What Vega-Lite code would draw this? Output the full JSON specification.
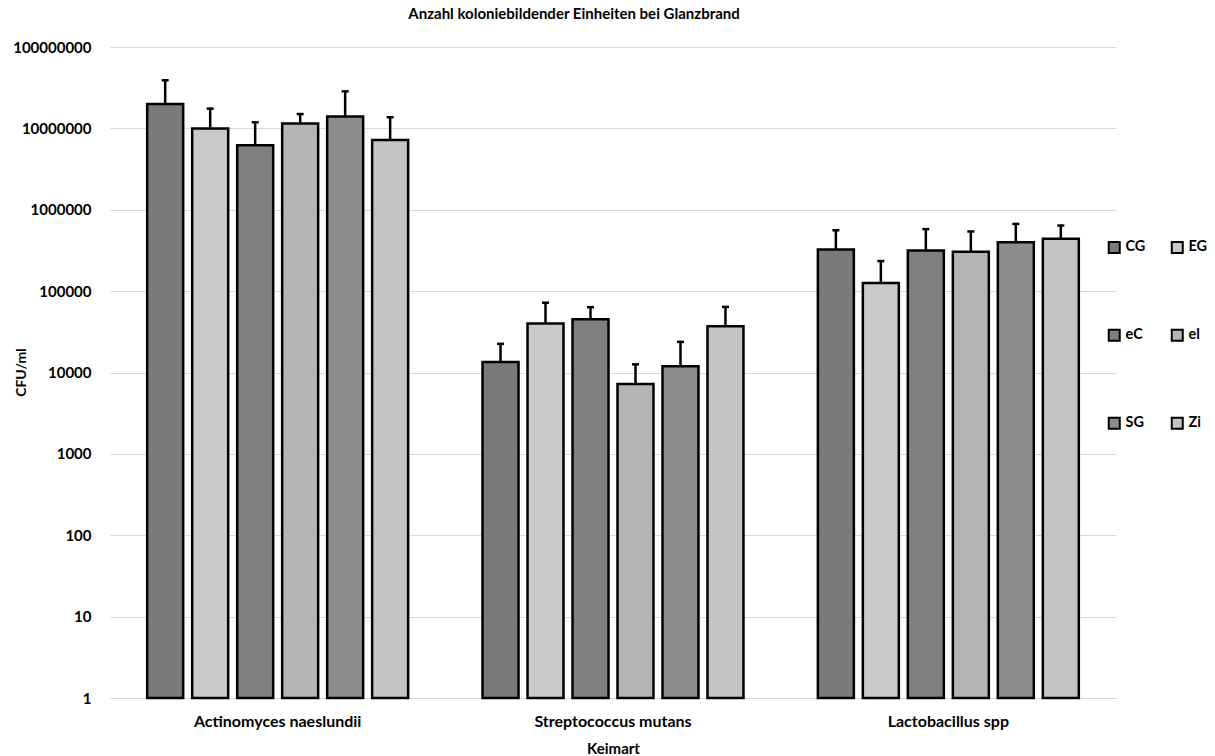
{
  "$schema": "https://vega.github.io/schema/vega-lite/v6.json",
  "autosize": {"type": "none"},
  "width": 1006,
  "height": 651,
  "padding": {"left": 110, "top": 47, "right": 99, "bottom": 58},
  "background": "white",
  "title": {
    "text": "Anzahl koloniebildender Einheiten bei Glanzbrand",
    "font": "Lato",
    "fontSize": 15,
    "fontWeight": "bold",
    "color": "#000000",
    "anchor": "middle",
    "dx": -39,
    "offset": 18
  },
  "data": {
    "values": [
      {"keimart": "Actinomyces naeslundii", "gruppe": "CG", "cfu": 20000000, "upper": 39000000},
      {"keimart": "Actinomyces naeslundii", "gruppe": "EG", "cfu": 10000000, "upper": 17500000},
      {"keimart": "Actinomyces naeslundii", "gruppe": "eC", "cfu": 6200000, "upper": 11900000},
      {"keimart": "Actinomyces naeslundii", "gruppe": "el", "cfu": 11500000, "upper": 15000000},
      {"keimart": "Actinomyces naeslundii", "gruppe": "SG", "cfu": 14000000, "upper": 28500000},
      {"keimart": "Actinomyces naeslundii", "gruppe": "Zi", "cfu": 7200000, "upper": 13700000},
      {"keimart": "Streptococcus mutans", "gruppe": "CG", "cfu": 13500, "upper": 22500},
      {"keimart": "Streptococcus mutans", "gruppe": "EG", "cfu": 40000, "upper": 72000},
      {"keimart": "Streptococcus mutans", "gruppe": "eC", "cfu": 45000, "upper": 63500},
      {"keimart": "Streptococcus mutans", "gruppe": "el", "cfu": 7200, "upper": 12600},
      {"keimart": "Streptococcus mutans", "gruppe": "SG", "cfu": 11900, "upper": 23800},
      {"keimart": "Streptococcus mutans", "gruppe": "Zi", "cfu": 37000, "upper": 64000},
      {"keimart": "Lactobacillus spp", "gruppe": "CG", "cfu": 325000, "upper": 560000},
      {"keimart": "Lactobacillus spp", "gruppe": "EG", "cfu": 126000, "upper": 234000},
      {"keimart": "Lactobacillus spp", "gruppe": "eC", "cfu": 316000, "upper": 578000},
      {"keimart": "Lactobacillus spp", "gruppe": "el", "cfu": 304000, "upper": 541000},
      {"keimart": "Lactobacillus spp", "gruppe": "SG", "cfu": 400000, "upper": 670000},
      {"keimart": "Lactobacillus spp", "gruppe": "Zi", "cfu": 440000, "upper": 640000}
    ]
  },
  "encoding": {
    "x": {
      "field": "keimart",
      "type": "nominal",
      "sort": ["Actinomyces naeslundii", "Streptococcus mutans", "Lactobacillus spp"],
      "scale": {"paddingInner": 0.195, "paddingOuter": 0.0975},
      "axis": {
        "title": "Keimart",
        "labelAngle": 0,
        "labelFont": "Lato",
        "labelFontSize": 16,
        "labelFontWeight": "bold",
        "labelColor": "#000000",
        "labelPadding": 15,
        "ticks": false,
        "tickSize": 0,
        "domainColor": "#d9d9d9",
        "domainWidth": 1,
        "titleFont": "Lato",
        "titleFontSize": 15,
        "titleFontWeight": "bold",
        "titleColor": "#000000",
        "titlePadding": 12
      }
    },
    "xOffset": {
      "field": "gruppe",
      "type": "nominal",
      "sort": ["CG", "EG", "eC", "el", "SG", "Zi"],
      "scale": {"paddingInner": 0.2, "paddingOuter": 0.1}
    }
  },
  "layer": [
    {
      "mark": {"type": "bar", "stroke": "#000000", "strokeWidth": 2.5},
      "encoding": {
        "y": {
          "field": "cfu",
          "type": "quantitative",
          "scale": {"type": "log", "domain": [1, 100000000], "nice": false},
          "axis": {
            "title": "CFU/ml",
            "values": [1, 10, 100, 1000, 10000, 100000, 1000000, 10000000, 100000000],
            "format": "d",
            "labelFont": "Lato",
            "labelFontSize": 15,
            "labelFontWeight": "bold",
            "labelColor": "#000000",
            "labelPadding": 19,
            "ticks": false,
            "tickSize": 0,
            "domain": false,
            "grid": true,
            "gridColor": "#d9d9d9",
            "gridWidth": 1,
            "titleFont": "Lato",
            "titleFontSize": 14,
            "titleFontWeight": "bold",
            "titleColor": "#000000",
            "titleX": -89,
            "titleY": 325,
            "titleAngle": -90,
            "titleAlign": "center",
            "titleBaseline": "middle"
          }
        },
        "y2": {"datum": 1},
        "fill": {
          "field": "gruppe",
          "type": "nominal",
          "scale": {
            "domain": ["CG", "EG", "eC", "el", "SG", "Zi"],
            "range": ["#7a7a7a", "#c9c9c9", "#7f7f7f", "#b4b4b4", "#8c8c8c", "#c4c4c4"]
          },
          "legend": {
            "title": null,
            "orient": "none",
            "legendX": 997,
            "legendY": 193,
            "direction": "horizontal",
            "columns": 2,
            "rowPadding": 68,
            "columnPadding": 21,
            "symbolType": "square",
            "symbolSize": 121,
            "symbolStrokeColor": "#000000",
            "symbolStrokeWidth": 2,
            "labelFont": "Lato",
            "labelFontSize": 14.5,
            "labelFontWeight": "bold",
            "labelColor": "#000000",
            "labelOffset": 4
          }
        }
      }
    },
    {
      "mark": {"type": "rule", "color": "#000000", "strokeWidth": 2.5},
      "encoding": {
        "y": {"field": "cfu", "type": "quantitative"},
        "y2": {"field": "upper"}
      }
    },
    {
      "mark": {"type": "point", "shape": "stroke", "size": 49, "filled": false, "color": "#000000", "strokeWidth": 2.5, "opacity": 1},
      "encoding": {
        "y": {"field": "upper", "type": "quantitative"}
      }
    }
  ],
  "config": {
    "view": {"stroke": null},
    "font": "Lato"
  }
}
